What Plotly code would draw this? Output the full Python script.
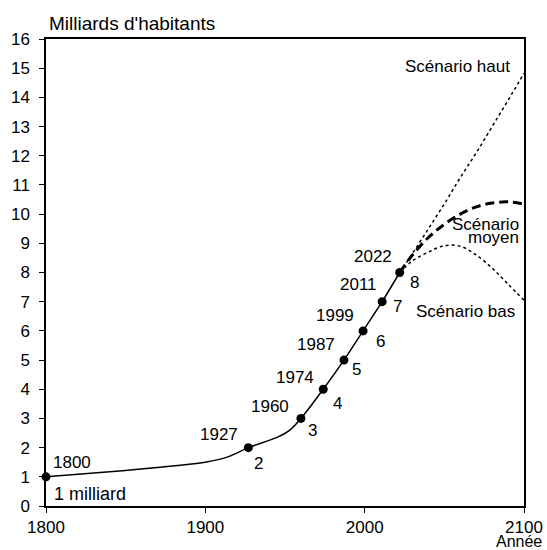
import plotly.graph_objects as go

# historical world population (billions)
hist_years = [1800, 1850, 1900, 1915, 1927, 1945, 1953, 1960, 1974, 1987, 1999, 2011, 2022]
hist_pop = [1.0, 1.22, 1.5, 1.7, 2.0, 2.35, 2.6, 3.0, 4.0, 5.0, 6.0, 7.0, 8.0]

# milestone points (each new billion)
mile_years = [1800, 1927, 1960, 1974, 1987, 1999, 2011, 2022]
mile_pop = [1, 2, 3, 4, 5, 6, 7, 8]

# projections
proj_years = [2022, 2030, 2040, 2050, 2060, 2070, 2080, 2090, 2100]
high_pop = [8.0, 8.65, 9.5, 10.35, 11.25, 12.1, 13.0, 13.9, 14.83]
mid_pop = [8.0, 8.6, 9.2, 9.65, 10.0, 10.25, 10.38, 10.42, 10.34]
low_pop = [8.0, 8.4, 8.7, 8.92, 8.9, 8.6, 8.15, 7.6, 7.05]

FONT = "Liberation Sans"
FS = 17    # digits
FS_TXT = 18  # words

fig = go.Figure()

fig.add_trace(go.Scatter(x=hist_years, y=hist_pop, mode='lines',
                         line=dict(color='black', width=1.5, shape='spline', smoothing=0.6),
                         showlegend=False, cliponaxis=False))
# scenarios
fig.add_trace(go.Scatter(x=proj_years, y=high_pop, mode='lines',
                         line=dict(color='black', width=1.5, dash='3px,3px', shape='spline'),
                         showlegend=False))
fig.add_trace(go.Scatter(x=proj_years, y=mid_pop, mode='lines',
                         line=dict(color='black', width=3, dash='9px,5px', shape='spline'),
                         showlegend=False))
fig.add_trace(go.Scatter(x=proj_years, y=low_pop, mode='lines',
                         line=dict(color='black', width=1.5, dash='3px,3px', shape='spline'),
                         showlegend=False))
fig.add_trace(go.Scatter(x=mile_years, y=mile_pop, mode='markers',
                         marker=dict(color='black', size=9),
                         showlegend=False, cliponaxis=False))

# labels around milestones: year upper-left, billion lower-right
year_off = [(26, 14), (-29, 13), (-31, 12), (-28, 12), (-28, 16), (-28, 15), (-24, 17), (-27, 16)]
num_off = [(14, -12), (10, -16), (12, -12), (14, -14), (13, -9), (17, -11), (15, -5), (15, -10)]
for i, (yr, p) in enumerate(zip(mile_years, mile_pop)):
    fig.add_annotation(x=yr, y=p, text=str(yr), showarrow=False,
                       xshift=year_off[i][0], yshift=year_off[i][1])
    if i == 0:
        fig.add_annotation(x=yr, y=p, text="1 milliard", showarrow=False, font_size=FS_TXT,
                           xanchor='left', xshift=6, yshift=-17)
    else:
        fig.add_annotation(x=yr, y=p, text=str(p), showarrow=False,
                           xshift=num_off[i][0], yshift=num_off[i][1])

fig.add_annotation(x=2058.3, y=15.05, text="Scénario haut", showarrow=False)
fig.add_annotation(x=2098, y=9.66, text="Scénario", showarrow=False, xanchor='right')
fig.add_annotation(x=2098, y=9.20, text="moyen", showarrow=False, xanchor='right')
fig.add_annotation(x=2095.5, y=6.66, text="Scénario bas", showarrow=False, xanchor='right')

fig.add_annotation(xref='paper', yref='paper', x=0, y=1.034, xanchor='left', yanchor='middle',
                   xshift=1, text="Milliards d'habitants", showarrow=False, font_size=19)
fig.add_annotation(xref='paper', yref='paper', x=1, y=-0.076, xanchor='right', yanchor='middle',
                   xshift=20, text="Année", showarrow=False, font_size=16)

fig.update_layout(
    width=547, height=550,
    margin=dict(l=46, r=23, t=39, b=44),
    paper_bgcolor='white', plot_bgcolor='white',
    font=dict(family=FONT, size=FS, color='black'),
    xaxis=dict(range=[1800, 2100], dtick=100, showgrid=False, zeroline=False,
               showline=True, linecolor='black', linewidth=1.5, mirror=True,
               ticks='outside', ticklen=5, tickcolor='black', automargin=False),
    yaxis=dict(range=[0, 16], dtick=1, showgrid=False, zeroline=False,
               showline=True, linecolor='black', linewidth=1.5, mirror=True,
               ticks='outside', ticklen=5, tickcolor='black', ticklabelstandoff=6,
               automargin=False),
)

# drop the page's default body margin so the figure fills the window
fig.write_html("out.html", config={'displayModeBar': False},
               post_script="document.body.style.margin='0';")
